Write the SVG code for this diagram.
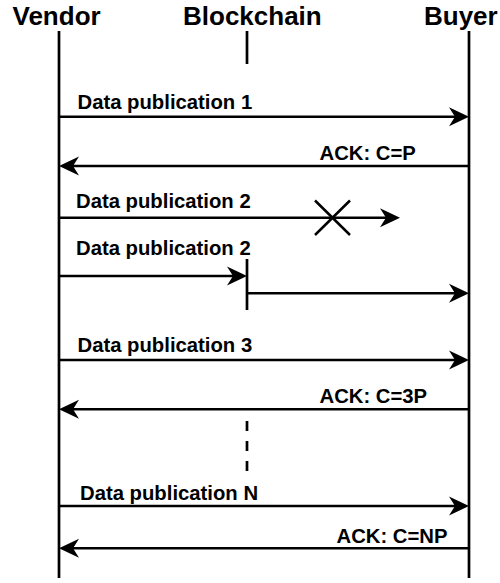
<svg xmlns="http://www.w3.org/2000/svg" width="500" height="583" viewBox="0 0 500 583">
<defs>
<style>
.title{font-family:"Liberation Sans",Arial,sans-serif;font-weight:bold;font-size:26px;fill:#000}
.lbl{font-family:"Liberation Sans",Arial,sans-serif;font-weight:bold;font-size:20.3px;fill:#000}
.life{stroke:#000;stroke-width:2.7;fill:none}
.msg{stroke:#000;stroke-width:2.5;fill:none;marker-end:url(#arr)}
</style>
<marker id="arr" viewBox="-21 -10 22 20" markerWidth="22" markerHeight="20" refX="-10" refY="0" orient="auto" markerUnits="userSpaceOnUse">
<path d="M0,0 L-20,-9.5 L-14,0 L-20,9.5 Z" fill="#000"/>
</marker>
</defs>
<rect width="500" height="583" fill="#fff"/>
<g id="vendor">
<text class="title" x="12.5" y="25">Vendor</text>
<line class="life" x1="59" y1="31" x2="59" y2="578"/>
</g>
<g id="blockchain">
<text class="title" x="183" y="25">Blockchain</text>
<line class="life" x1="247" y1="31" x2="247" y2="64"/>
<line class="life" x1="247" y1="259" x2="247" y2="310"/>
<line class="life" x1="247" y1="421" x2="247" y2="472" stroke-dasharray="10 10"/>
</g>
<g id="buyer">
<text class="title" x="424" y="25">Buyer</text>
<line class="life" x1="469" y1="31" x2="469" y2="578"/>
</g>
<g id="connectors">
<line class="msg" x1="59" y1="116.7" x2="459" y2="116.7"/>
<line class="msg" x1="469" y1="166" x2="69" y2="166"/>
<line class="msg" x1="59" y1="217.7" x2="390" y2="217.7"/>
<line class="msg" x1="59" y1="276" x2="237" y2="276"/>
<line class="msg" x1="247" y1="293.3" x2="459" y2="293.3"/>
<line class="msg" x1="59" y1="360" x2="459" y2="360"/>
<line class="msg" x1="469" y1="409.3" x2="69" y2="409.3"/>
<line class="msg" x1="59" y1="506" x2="459" y2="506"/>
<line class="msg" x1="469" y1="548.3" x2="69" y2="548.3"/>
<path d="M315,200.5 L350,235 M350,200.5 L315,235" stroke="#000" stroke-width="2.5" fill="none"/>
</g>
<g id="labels">
<text class="lbl" x="77.5" y="109">Data publication 1</text>
<text class="lbl" x="319.5" y="159.5">ACK: C=P</text>
<text class="lbl" x="76" y="208">Data publication 2</text>
<text class="lbl" x="76" y="255">Data publication 2</text>
<text class="lbl" x="77.5" y="352">Data publication 3</text>
<text class="lbl" x="319.5" y="402.5">ACK: C=3P</text>
<text class="lbl" x="80" y="500">Data publication N</text>
<text class="lbl" x="336.5" y="542.5">ACK: C=NP</text>
</g>
</svg>
